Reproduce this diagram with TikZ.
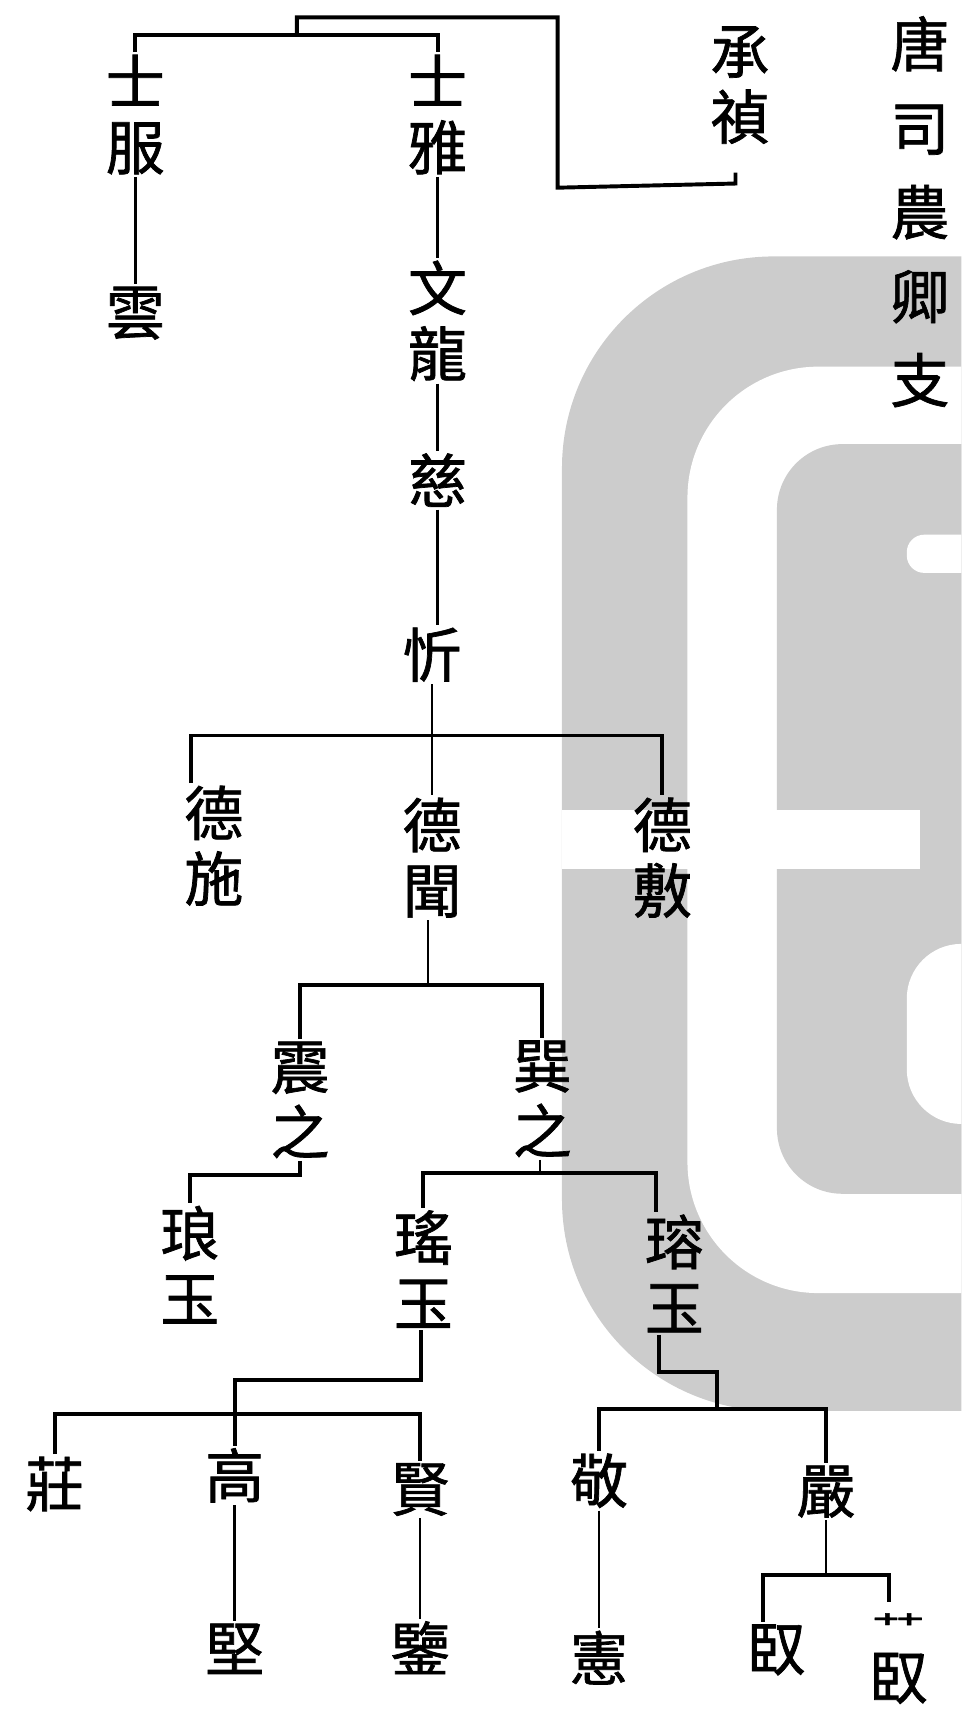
\documentclass[tikz,border=0pt]{standalone}
\usepackage{fontspec}
\newfontfamily\cjk{Noto Sans CJK TC}[FakeBold=1.2]
\tikzset{
  mingzi/.style={font=\cjk\fontsize{27}{30}\selectfont, align=center, inner sep=1pt},
  biaoti/.style={font=\cjk\fontsize{27}{38.5}\selectfont, align=center, inner sep=1pt},
  danxian/.style={line width=1.1pt},
  hengxian/.style={line width=1.8pt},
  shuiyin/.style={fill=black!20, draw=none}
}
\begin{document}
\begin{tikzpicture}[x=0.5pt,y=-0.5pt]
\useasboundingbox (0,0) rectangle (881,1568);
% watermark
\begin{scope}
  \clip (0,0) rectangle (881,1568);
  \fill[shuiyin, rounded corners=97pt] (1100,235) -- (515,235) -- (515,1293) -- (1100,1293) -- cycle;
  \fill[white, rounded corners=60pt] (1100,336) -- (630,336) -- (630,1185) -- (1100,1185) -- cycle;
  \fill[shuiyin, rounded corners=30pt] (1100,407) -- (712,407) -- (712,1094) -- (1100,1094) -- cycle;
  \fill[white, rounded corners=8pt] (1100,490) -- (831,490) -- (831,525) -- (1100,525) -- cycle;
  \fill[white, rounded corners=25pt] (1100,865) -- (831,865) -- (831,1030) -- (1100,1030) -- cycle;
  \fill[white] (515,742) rectangle (843,796);
\end{scope}

\node[biaoti] (tang) at (843,194) {唐\\司\\農\\卿\\支};
\node[mingzi] (chengzhen) at (678,78) {承\\禎};
\node[mingzi] (shifu) at (124,105) {士\\服};
\node[mingzi] (shiya) at (401,105) {士\\雅};
\node[mingzi] (yun) at (124,287) {雲};
\node[mingzi] (wenlong) at (401,294) {文\\龍};
\node[mingzi] (ci) at (401,440) {慈};
\node[mingzi] (xin) at (396,600) {忻};
\node[mingzi] (deshi) at (196,775) {德\\施};
\node[mingzi] (dewen) at (396,786) {德\\聞};
\node[mingzi] (defu) at (607,786) {德\\敷};
\node[mingzi] (zhenzhi) at (275,1008) {震\\之};
\node[mingzi] (xunzhi) at (497,1007) {巽\\之};
\node[mingzi] (langyu) at (174,1159) {琅\\玉};
\node[mingzi] (yaoyu) at (388,1163) {瑤\\玉};
\node[mingzi] (rongyu) at (618,1167) {瑢\\玉};
\node[mingzi] (zhuang) at (50,1360) {莊};
\node[mingzi] (gao) at (215,1352) {高};
\node[mingzi] (xian) at (385,1365) {賢};
\node[mingzi] (jing) at (549,1357) {敬};
\node[mingzi] (yan) at (757,1367) {嚴};
\node[mingzi] (jian) at (215,1511) {堅};
\node[mingzi] (jianb) at (385,1510) {鑒};
\node[mingzi] (xianb) at (549,1519) {憲};
\node[mingzi] (qian) at (711,1512) {臤};
\node[mingzi] (qianb) at (823,1520) {\scalebox{0.9}[0.55]{艹}\\[-3pt]臤};

\coordinate (xinjoint) at (396,674);
\coordinate (wenjoint) at (392,903);
\coordinate (xunjoint) at (495,1075);
\coordinate (yaojoint) at (215,1265);
\coordinate (yaobar) at (215,1296);
\coordinate (rongjoint) at (657,1257);
\coordinate (rongbar) at (657,1291);
\coordinate (yanjoint) at (757,1443);

% Cheng Zhen's line
\draw[hengxian] ([xshift=-2pt,yshift=-12pt]chengzhen.south) -- ++(0,10) -- (511,172) -- (511,16) -- (272,16) -- (272,32);
\draw[hengxian] (shifu.north) |- (272,32) -| (shiya.north);
\draw[danxian] (shifu.south) -- (yun.north);
\draw[danxian] (shiya.south) -- (wenlong.north);
\draw[danxian] (wenlong.south) -- (ci.north);
\draw[danxian] (ci.south) -- (ci.south |- xin.north);
\draw[danxian] (xin.south) -- (dewen.north);
\draw[hengxian] ([xshift=-10.5pt]deshi.north) |- (xinjoint) -| (defu.north);
% De Wen's line
\draw[danxian] ([xshift=-2pt]dewen.south) -- (wenjoint);
\draw[hengxian] (zhenzhi.north) |- (wenjoint) -| (xunzhi.north);
\draw[hengxian] (zhenzhi.south) |- ([yshift=13pt]langyu.north) -- (langyu.north);
\draw[danxian] ([xshift=-1pt]xunzhi.south) -- (xunjoint);
\draw[hengxian] (yaoyu.north) |- (xunjoint) -| ([xshift=-8.5pt]rongyu.north);
\draw[hengxian] ([xshift=-1pt]yaoyu.south) |- (yaojoint) -- (gao.north);
\draw[hengxian] (zhuang.north) |- (yaobar) -| (xian.north);
\draw[hengxian] ([xshift=-7pt]rongyu.south) |- (rongjoint) -- (rongbar);
\draw[hengxian] (jing.north) |- (rongbar) -| (yan.north);
\draw[danxian] (gao.south) -- (jian.north);
\draw[danxian] (xian.south) -- (jianb.north);
\draw[danxian] (jing.south) -- (xianb.north);
\draw[danxian] (yan.south) -- (yanjoint);
\draw[hengxian] ([xshift=-6pt]qian.north) |- (yanjoint) -| ([xshift=-4pt,yshift=4pt]qianb.north);
\end{tikzpicture}
\end{document}
